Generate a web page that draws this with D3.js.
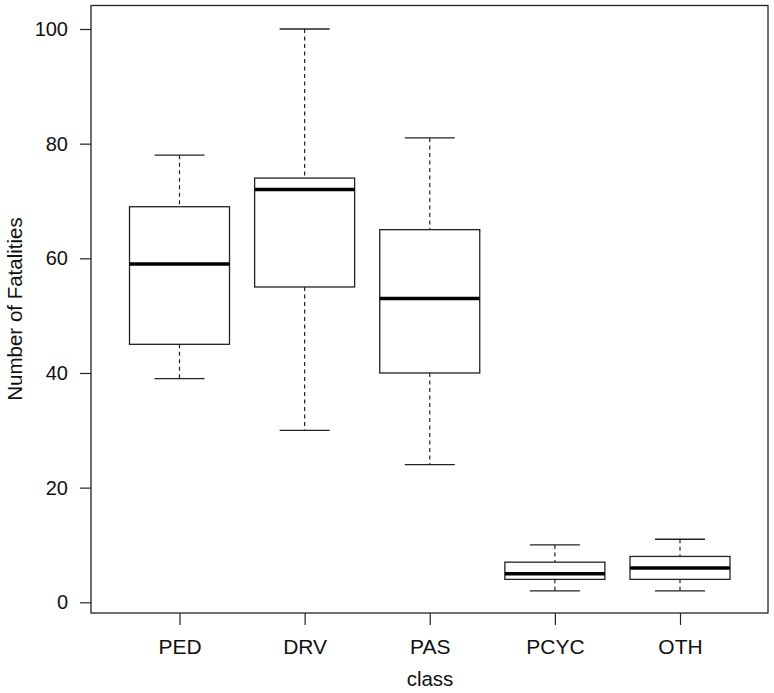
<!DOCTYPE html>
<html>
<head>
<meta charset="utf-8">
<script src="https://cdn.jsdelivr.net/npm/d3@7"></script>
<style>
  html, body { margin: 0; padding: 0; background: #fff; }
  text { font-family: "Liberation Sans", Arial, Helvetica, sans-serif; fill: #111; }
</style>
</head>
<body>
<svg id="chart" width="774" height="693"></svg>
<script>
// ---- data ----
const categories = ["PED", "DRV", "PAS", "PCYC", "OTH"];
const whiskerLow  = [39, 30, 24, 2, 2];
const quartile1   = [45, 55, 40, 4, 4];
const medians     = [59, 72, 53, 5, 6];
const quartile3   = [69, 74, 65, 7, 8];
const whiskerHigh = [78, 100, 81, 10, 11];
const yTicks = [0, 20, 40, 60, 80, 100];

const boxes = categories.map((c, i) => ({
  cat: c, lo: whiskerLow[i], q1: quartile1[i], med: medians[i], q3: quartile3[i], hi: whiskerHigh[i]
}));

const svg = d3.select("#chart");
const frame = { left: 91, right: 768, top: 5.5, bottom: 613 };

const x = d3.scalePoint().domain(categories).range([179.5, 680]);
const y = d3.scaleLinear().domain([0, 100]).range([602.3, 29]);
const boxW = 100, capW = 50;
const stroke = "#222";

// frame
svg.append("rect")
  .attr("x", frame.left).attr("y", frame.top)
  .attr("width", frame.right - frame.left).attr("height", frame.bottom - frame.top)
  .attr("fill", "none").attr("stroke", stroke).attr("stroke-width", 1.3);

// y axis
const yAxis = d3.axisLeft(y).tickValues(yTicks).tickSize(11).tickPadding(12);
const gy = svg.append("g").attr("transform", `translate(${frame.left},0)`).call(yAxis);
gy.select(".domain").remove();
gy.selectAll(".tick line").attr("stroke", stroke).attr("stroke-width", 1.2);
gy.selectAll(".tick text").attr("font-size", 20).style("font-family", '"Liberation Sans", Arial, sans-serif').attr("fill", "#111");

// x axis
const xAxis = d3.axisBottom(x).tickSize(12).tickPadding(14);
const gx = svg.append("g").attr("transform", `translate(0,${frame.bottom})`).call(xAxis);
gx.select(".domain").remove();
gx.selectAll(".tick line").attr("stroke", stroke).attr("stroke-width", 1.2);
gx.selectAll(".tick text").attr("font-size", 21).style("font-family", '"Liberation Sans", Arial, sans-serif').attr("fill", "#111");

// axis titles
svg.append("text").attr("x", (frame.left + frame.right) / 2 + 0.5).attr("y", 686)
  .attr("text-anchor", "middle").attr("font-size", 20.5).text("class");
svg.append("text").attr("transform", "translate(22,309) rotate(-90)")
  .attr("text-anchor", "middle").attr("font-size", 20.5).text("Number of Fatalities");

// boxes
const g = svg.append("g");
const bx = g.selectAll("g.box").data(boxes).join("g").attr("class", "box");

// whiskers (dashed)
bx.append("line")
  .attr("x1", d => x(d.cat)).attr("x2", d => x(d.cat))
  .attr("y1", d => y(d.hi)).attr("y2", d => y(d.q3))
  .attr("stroke", stroke).attr("stroke-width", 1.2).attr("stroke-dasharray", "4,3.5");
bx.append("line")
  .attr("x1", d => x(d.cat)).attr("x2", d => x(d.cat))
  .attr("y1", d => y(d.q1)).attr("y2", d => y(d.lo))
  .attr("stroke", stroke).attr("stroke-width", 1.2).attr("stroke-dasharray", "4,3.5");
// caps
bx.append("line")
  .attr("x1", d => x(d.cat) - capW / 2).attr("x2", d => x(d.cat) + capW / 2)
  .attr("y1", d => y(d.hi)).attr("y2", d => y(d.hi))
  .attr("stroke", stroke).attr("stroke-width", 1.3);
bx.append("line")
  .attr("x1", d => x(d.cat) - capW / 2).attr("x2", d => x(d.cat) + capW / 2)
  .attr("y1", d => y(d.lo)).attr("y2", d => y(d.lo))
  .attr("stroke", stroke).attr("stroke-width", 1.3);
// box
bx.append("rect")
  .attr("x", d => x(d.cat) - boxW / 2).attr("width", boxW)
  .attr("y", d => y(d.q3)).attr("height", d => y(d.q1) - y(d.q3))
  .attr("fill", "#fff").attr("stroke", stroke).attr("stroke-width", 1.3);
// median
bx.append("line")
  .attr("x1", d => x(d.cat) - boxW / 2).attr("x2", d => x(d.cat) + boxW / 2)
  .attr("y1", d => y(d.med)).attr("y2", d => y(d.med))
  .attr("stroke", "#000").attr("stroke-width", 3.5);
</script>
</body>
</html>
